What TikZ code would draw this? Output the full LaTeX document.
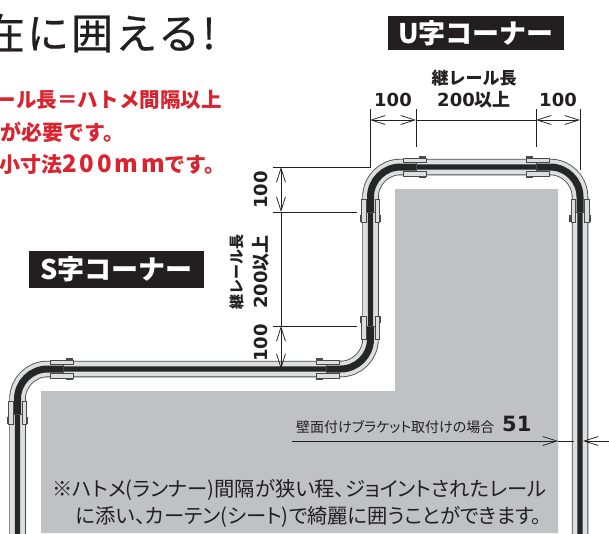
\documentclass[tikz,border=0pt]{standalone}
\usepackage{fontspec}
\usetikzlibrary{arrows.meta}
\newfontfamily\jp{Noto Sans CJK JP}
\newfontfamily\jpp[RawFeature=+palt]{Noto Sans CJK JP}
\newfontfamily\jpspaced[LetterSpace=5,FakeBold=0.5]{Noto Sans CJK JP}
\newfontfamily\jpwide[LetterSpace=12]{Noto Sans CJK JP}
\newfontfamily\numf{DejaVu Sans}
\definecolor{ink}{HTML}{231F20}
\definecolor{wallgrey}{HTML}{C0C1C5}
\definecolor{railred}{HTML}{D9232E}
\definecolor{raillight}{HTML}{DDDEDF}
\definecolor{railedge}{HTML}{4A4A4A}
\newcommand{\fsz}[1]{\fontsize{#1}{#1}\selectfont}
\newcommand{\railjoint}[3]{%
  \begin{scope}[shift={(#1,#2)},rotate=#3]
    \draw[jointpart] (-13,-9.2) rectangle (10,-4.6);
    \draw[jointpart] (-13,4.6) rectangle (10,9.2);
    \fill[railedge] (3,9.2) rectangle (10,10.8);
    \fill[railedge] (3,-9.2) rectangle (10,-10.8);
    \draw[railedge,line width=.7pt] (0,-4.6) -- (0,4.6);
  \end{scope}}
\tikzset{
  x=1pt,y=-1pt,
  dimline/.style={draw=ink,line width=.75pt},
  dimboth/.style={dimline,{Straight Barb[length=14pt,width=9pt,line width=.75pt]}-{Straight Barb[length=14pt,width=9pt,line width=.75pt]}},
  dimend/.style={dimline,-{Straight Barb[length=14pt,width=9pt,line width=.75pt]}},
  jointpart/.style={draw=railedge,fill=raillight,line width=.6pt},
  railouter/.style={draw=railedge,line width=16.5pt,rounded corners=30pt},
  railmid/.style={draw=raillight,line width=14.8pt,rounded corners=30pt},
  railcore/.style={draw=black!85,line width=5.4pt,rounded corners=30pt},
  railbend/.style={draw=black!85,line width=7pt,rounded corners=30pt},
  numlabel/.style={font=\numf\bfseries\fsz{18},text=ink,inner sep=0pt},
  jplabel/.style={font=\jp\bfseries\fsz{#1},text=ink,inner sep=0pt},
  cornerbox/.style={fill=ink,text=white,inner sep=0pt,font=\jp\bfseries\fsz{27}},
  redtext/.style={font=\jp\bfseries\fsz{21},text=railred,inner sep=0pt,anchor=east},
  notetext/.style={font=\jpp\fsz{20.3},text=ink,inner sep=0pt,anchor=west}
}
\begin{document}
\begin{tikzpicture}
\useasboundingbox (0,0) rectangle (609,533);
\clip (0,0) rectangle (609,533);
% wall
\fill[wallgrey] (395,189) -- (558,189) -- (558,533) -- (41,533) -- (41,391) -- (395,391) -- cycle;
% rail route
\coordinate (r0) at (17.5,545);
\coordinate (r1) at (17.5,369);
\coordinate (r2) at (370.5,369);
\coordinate (r3) at (370.5,167);
\coordinate (r4) at (580,167);
\coordinate (r5) at (580,545);
\coordinate (j1) at (17.5,414);
\coordinate (j2) at (63,369);
\coordinate (j3) at (326,369);
\coordinate (j4) at (370.5,326);
\coordinate (j5) at (370.5,212);
\coordinate (j6) at (416,167);
\coordinate (j7) at (536,167);
\coordinate (j8) at (580,212);
\foreach \st in {railouter,railmid,railcore}
  \draw[\st] (r0) -- (r1) -- (r2) -- (r3) -- (r4) -- (r5);
\draw[railbend] (j1) -- (r1) -- (j2);
\draw[railbend] (j3) -- (r2) -- (j4);
\draw[railbend] (j5) -- (r3) -- (j6);
\draw[railbend] (j7) -- (r4) -- (j8);
\railjoint{416}{167}{0}
\railjoint{536}{167}{180}
\railjoint{580}{212}{-90}
\railjoint{370.5}{212}{-90}
\railjoint{370.5}{326}{90}
\railjoint{326}{369}{180}
\railjoint{63}{369}{0}
\railjoint{17.5}{414}{-90}
% title and red text
\node[font=\jpspaced\fsz{42},text=ink,inner sep=0pt,anchor=east] (title) at (216,33) {自在に囲える!};
\node[redtext,font=\jp\bfseries\fsz{20.5}] (red1) at (222,100) {継レール長\symbol{"FF1D}ハトメ間隔以上};
\node[redtext] (red2) at (125,132) {が必要です。};
\node[redtext] (red3) at (226,165) {最小寸法{\jpwide\bfseries\fsz{24}200mm}です。};
% corner labels
\node[cornerbox,minimum width=176pt,minimum height=34pt] (ubox) at (476,33) {U字コーナー};
\node[cornerbox,minimum width=175pt,minimum height=37pt] (sbox) at (116.5,269.5) {S字コーナー};
% top dimensions
\coordinate (ta) at (370,109); \coordinate (tab) at (370,120); \coordinate (tae) at (370,168);
\coordinate (tb) at (416,109); \coordinate (tbb) at (416,120); \coordinate (tbe) at (416,147);
\coordinate (tc) at (536,109); \coordinate (tcb) at (536,120); \coordinate (tce) at (536,147);
\coordinate (td) at (580,109); \coordinate (tdb) at (580,120); \coordinate (tde) at (580,170);
\draw[dimline] (ta) -- (tae);
\draw[dimline] (tb) -- (tbe);
\draw[dimline] (tc) -- (tce);
\draw[dimline] (td) -- (tde);
\draw[dimboth] (tab) -- (tbb);
\draw[dimline] (tbb) -- (tcb);
\draw[dimboth] (tcb) -- (tdb);
\node[numlabel] (t100a) at (393,100) {100};
\node[numlabel] (t100b) at (558,100) {100};
\node[jplabel=17] (tname) at (474,78) {継レール長};
\node[numlabel,anchor=base] (t200) at (474,106) {200\jp\bfseries 以上};
% left dimensions
\coordinate (la) at (273,167); \coordinate (lab) at (281,167); \coordinate (lae) at (370,167);
\coordinate (lb) at (273,212); \coordinate (lbb) at (281,212); \coordinate (lbe) at (357,212);
\coordinate (lc) at (273,326); \coordinate (lcb) at (281,326); \coordinate (lce) at (357,326);
\coordinate (ldb) at (281,369);
\draw[dimline] (la) -- (lae);
\draw[dimline] (lb) -- (lbe);
\draw[dimline] (lc) -- (lce);
\draw[dimboth] (lab) -- (lbb);
\draw[dimline] (lbb) -- (lcb);
\draw[dimboth] (lcb) -- (ldb);
\node[numlabel,rotate=90] (l100a) at (261,190) {100};
\node[numlabel,rotate=90] (l100b) at (261,343) {100};
\node[numlabel,rotate=90] (l200) at (261,272) {200\jp\bfseries 以上};
\node[jplabel=15,rotate=90] (lname) at (237,272) {継レール長};
% 51 dimension
\coordinate (wa) at (292,441); \coordinate (wb) at (558,441);
\coordinate (wc) at (609,441); \coordinate (wd) at (583,441); \coordinate (we) at (574,441);
\draw[dimend] (wa) -- (wb);
\draw[ink,line width=.5pt] (wb) -- (we);
\draw[dimend,line width=.5pt] (wc) -- (wd);
\node[font=\jpp\fsz{14},text=ink,inner sep=0pt,anchor=west] (wtext) at (296,427) {壁面付けブラケット取付けの場合};
\node[font=\numf\bfseries\fsz{21},text=ink,inner sep=0pt,anchor=west] (w51) at (502,424) {51};
% note
\node[notetext] (n1) at (52,490) {※ハトメ(ランナー)間隔が狭い程、ジョイントされたレール};
\node[notetext] (n2) at (76,517) {に添い、カーテン(シート)で綺麗に囲うことができます。};
\end{tikzpicture}
\end{document}
